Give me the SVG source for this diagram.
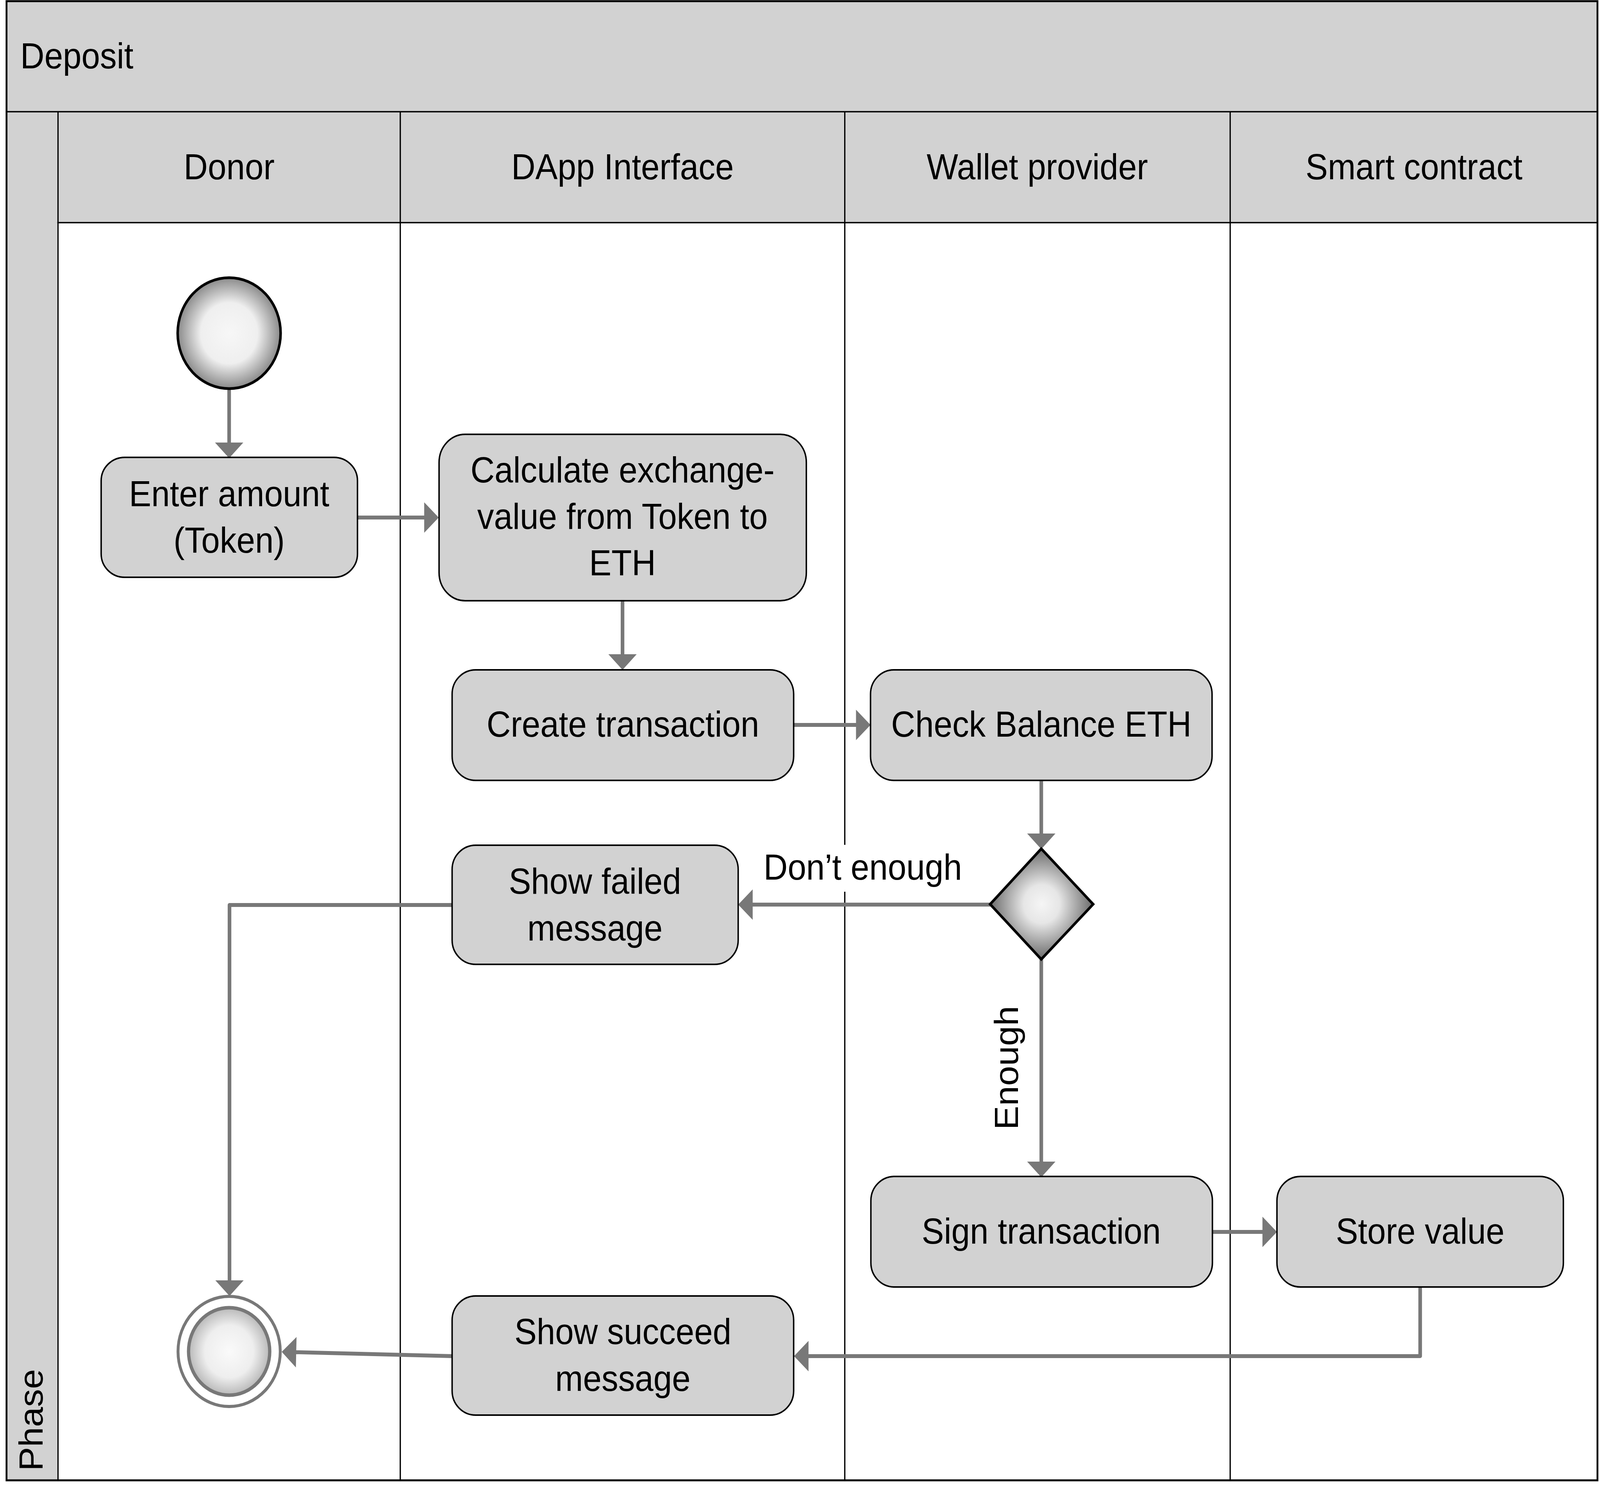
<svg xmlns="http://www.w3.org/2000/svg" width="4413" height="3825" viewBox="0 0 4413 3825" preserveAspectRatio="none" style="width:100%;height:100%;display:block">
  <defs>
    <style>
      .hdr { fill: #d2d2d2; }
      .grid { stroke: #000; stroke-width: 3.5; fill: none; }
      .node { fill: #d2d2d2; stroke: #000; stroke-width: 4; }
      .t { font-family: "Liberation Sans", Arial, sans-serif; font-size: 92px; fill: #000; }
      .c { text-anchor: middle; }
      .conn { stroke: #787878; stroke-width: 10; fill: none; stroke-linecap: round; stroke-linejoin: round; marker-end: url(#ah); }
    </style>
    <marker id="ah" markerUnits="userSpaceOnUse" markerWidth="42" markerHeight="80" viewBox="0 0 42 80" refX="0" refY="39" orient="auto" overflow="visible">
      <path d="M0,0 L40,39 L0,78 Z" fill="#787878"/>
    </marker>
    <radialGradient id="gStart" cx="50%" cy="50%" r="50%">
      <stop offset="0" stop-color="#f7f7f7"/>
      <stop offset="0.55" stop-color="#efefef"/>
      <stop offset="1" stop-color="#8a8a8a"/>
    </radialGradient>
    <radialGradient id="gDia" cx="50%" cy="50%" r="50%">
      <stop offset="0" stop-color="#f5f5f5"/>
      <stop offset="0.35" stop-color="#e6e6e6"/>
      <stop offset="1" stop-color="#6a6a6a"/>
    </radialGradient>
    <radialGradient id="gEnd" cx="50%" cy="50%" r="50%">
      <stop offset="0" stop-color="#fafafa"/>
      <stop offset="0.6" stop-color="#eeeeee"/>
      <stop offset="1" stop-color="#b8b8b8"/>
    </radialGradient>
  </defs>

  <rect x="0" y="0" width="4413" height="3825" fill="#fff"/>

  <g id="pool">
    <rect class="hdr" x="18" y="3" width="4388" height="283"/>
    <rect class="hdr" x="158" y="286" width="4248" height="284"/>
    <rect class="hdr" x="18" y="286" width="140" height="3504"/>
    <line class="grid" x1="18" y1="286" x2="4406" y2="286" stroke-width="5"/>
    <line class="grid" x1="158" y1="570" x2="4406" y2="570" stroke-width="4"/>
    <line class="grid" x1="160" y1="286" x2="160" y2="3790"/>
    <line class="grid" x1="1104" y1="286" x2="1104" y2="3790"/>
    <line class="grid" x1="2330" y1="286" x2="2330" y2="3790"/>
    <line class="grid" x1="3393" y1="286" x2="3393" y2="3790"/>
    <rect x="18" y="3" width="4388" height="3787" fill="none" stroke="#000" stroke-width="5"/>
    <text class="t" x="56" y="175">Deposit</text>
    <text class="t" transform="translate(117,3766) rotate(-90)">Phase</text>
    <text class="t c" x="632" y="459">Donor</text>
    <text class="t c" x="1717" y="459">DApp Interface</text>
    <text class="t c" x="2861" y="459">Wallet provider</text>
    <text class="t c" x="3900" y="459">Smart contract</text>
  </g>

  <g id="connectors">
    <path class="conn" d="M632,1000 L632,1133"/>
    <path class="conn" d="M986,1325 L1170,1325"/>
    <path class="conn" d="M1717,1540 L1717,1675"/>
    <path class="conn" d="M2189,1856 L2361,1856"/>
    <path class="conn" d="M2872,1998 L2872,2134"/>
    <path class="conn" d="M2733,2316 L2076,2316"/>
    <path class="conn" d="M1247,2317 L633,2317 L633,3278"/>
    <path class="conn" d="M2872,2456 L2872,2974"/>
    <path class="conn" d="M3344,3154 L3482,3154"/>
    <path class="conn" d="M3917,3296 L3917,3472 L2230,3472"/>
    <path class="conn" d="M1247,3472 L817,3462"/>
    <rect x="2098" y="2163" width="575" height="120" fill="#fff"/>
    <text class="t" x="2106" y="2252">Don’t enough</text>
    <text class="t c" transform="translate(2808,2734) rotate(-90)">Enough</text>
  </g>

  <g id="start">
    <circle cx="632" cy="853" r="142" fill="url(#gStart)" stroke="#000" stroke-width="7"/>
  </g>

  <g id="enter-amount">
    <rect class="node" x="279" y="1171" width="707" height="307" rx="65" ry="60"/>
    <text class="t c" x="632" y="1296">Enter amount</text>
    <text class="t c" x="632" y="1415">(Token)</text>
  </g>

  <g id="calculate">
    <rect class="node" x="1211" y="1112" width="1013" height="426" rx="72" ry="72"/>
    <text class="t c" x="1717" y="1235">Calculate exchange-</text>
    <text class="t c" x="1717" y="1354">value from Token to</text>
    <text class="t c" x="1717" y="1473">ETH</text>
  </g>

  <g id="create-transaction">
    <rect class="node" x="1247" y="1715" width="942" height="283" rx="65" ry="62"/>
    <text class="t c" x="1718" y="1886">Create transaction</text>
  </g>

  <g id="check-balance">
    <rect class="node" x="2401" y="1715" width="942" height="283" rx="65" ry="62"/>
    <text class="t c" x="2872" y="1886">Check Balance ETH</text>
  </g>

  <g id="decision">
    <polygon points="2872,2173 3015,2315 2872,2456 2731,2315" fill="url(#gDia)" stroke="#000" stroke-width="7" stroke-linejoin="miter"/>
  </g>

  <g id="show-failed">
    <rect class="node" x="1247" y="2164" width="789" height="305" rx="65" ry="62"/>
    <text class="t c" x="1641" y="2288">Show failed</text>
    <text class="t c" x="1641" y="2408">message</text>
  </g>

  <g id="sign-transaction">
    <rect class="node" x="2402" y="3012" width="942" height="283" rx="65" ry="62"/>
    <text class="t c" x="2872" y="3184">Sign transaction</text>
  </g>

  <g id="store-value">
    <rect class="node" x="3522" y="3012" width="790" height="283" rx="65" ry="62"/>
    <text class="t c" x="3917" y="3184">Store value</text>
  </g>

  <g id="show-succeed">
    <rect class="node" x="1247" y="3318" width="942" height="305" rx="65" ry="62"/>
    <text class="t c" x="1718" y="3441">Show succeed</text>
    <text class="t c" x="1718" y="3561">message</text>
  </g>

  <g id="end">
    <circle cx="632" cy="3460" r="141" fill="#fff" stroke="#787878" stroke-width="8"/>
    <circle cx="632" cy="3460" r="112" fill="url(#gEnd)" stroke="#787878" stroke-width="9"/>
  </g>
</svg>
